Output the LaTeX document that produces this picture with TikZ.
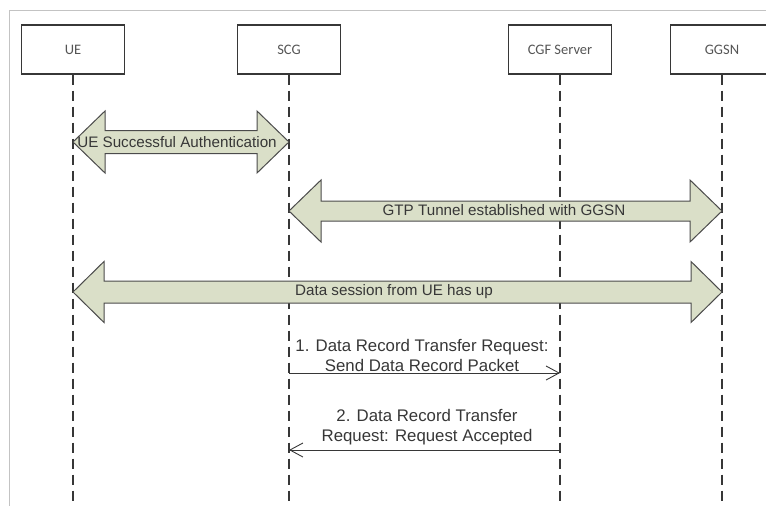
\documentclass[tikz,border=0pt]{standalone}
\usepackage{fontspec}
\setmainfont{Liberation Sans}
\newfontfamily\boxfont{Carlito}
\usetikzlibrary{arrows.meta}
\definecolor{arrowfill}{RGB}{218,223,200}
\definecolor{ink}{RGB}{55,55,55}
\definecolor{framegray}{RGB}{195,195,195}
% x1, x2, y, shaft half height, head half height, head length
\newcommand\fatarrow[6]{%
  \filldraw[fatarrow] (#1,#3) -- ({#1+#6},{#3-#5}) -- ({#1+#6},{#3-#4})
    -- ({#2-#6},{#3-#4}) -- ({#2-#6},{#3-#5}) -- (#2,#3)
    -- ({#2-#6},{#3+#5}) -- ({#2-#6},{#3+#4}) -- ({#1+#6},{#3+#4})
    -- ({#1+#6},{#3+#5}) -- cycle;}
\tikzset{
  entity/.style={draw=ink, line width=1.1pt, minimum width=103pt, minimum height=49pt,
    inner sep=0pt, text=ink!85, font=\boxfont\fontsize{14.5}{16}\selectfont},
  life/.style={draw=ink, line width=1.1pt, dash pattern=on 10pt off 6pt},
  fatarrow/.style={fill=arrowfill, draw=ink!90, line width=1pt, line join=miter},
  lbl/.style={text=ink, inner sep=0pt, font=\fontsize{15.2}{20}\selectfont},
  msglbl/.style={text=ink, inner sep=0pt, align=center, font=\fontsize{16.8}{20}\selectfont},
  msg/.style={draw=ink, line width=0.9pt, -{Straight Barb[length=13pt,width=14pt,line width=0.9pt]}},
}
\begin{document}
\begin{tikzpicture}[x=1pt, y=-1pt]
\useasboundingbox (0,0) rectangle (766,506);
\draw[framegray, line width=0.8pt] (9,506) -- (9,10) -- (766,10);

\node[entity] (ue)   at (73,49.5)  {UE};
\node[entity] (scg)  at (289,49.5) {SCG};
\node[entity] (cgf)  at (560,49.5) {CGF Server};
\node[entity] (ggsn) at (722,49.5) {GGSN};

\coordinate (ueend)   at (ue |- 0,506);
\coordinate (scgend)  at (scg |- 0,506);
\coordinate (cgfend)  at (cgf |- 0,506);
\coordinate (ggsnend) at (ggsn |- 0,506);
\draw[life] (ue.south) -- (ueend);
\draw[life] (scg.south) -- (scgend);
\draw[life] (cgf.south) -- (cgfend);
\draw[life] (ggsn.south) -- (ggsnend);

\fatarrow{73}{289}{142}{11.5}{31}{32}
\node[lbl] (auth) at (177,142) {UE Successful Authentication};

\fatarrow{289}{722}{211}{10}{31}{32}
\node[lbl] (gtp) at (504,210) {GTP Tunnel established with GGSN};

\fatarrow{73}{722}{292}{11}{30.5}{31}
\node[lbl] (data) at (394,292) {Data session from UE has up};

\coordinate (m1a) at (scg |- 0,373);
\coordinate (m1b) at (cgf |- 0,373);
\draw[msg] (m1a) -- (m1b);
\node[msglbl] (m1) at (422,355) {1. Data Record Transfer Request:\\Send Data Record Packet};

\coordinate (m2a) at (cgf |- 0,450);
\coordinate (m2b) at (scg |- 0,450);
\draw[msg] (m2a) -- (m2b);
\node[msglbl] (m2) at (427,427) {2. Data Record Transfer\\Request: Request Accepted};
\end{tikzpicture}
\end{document}
